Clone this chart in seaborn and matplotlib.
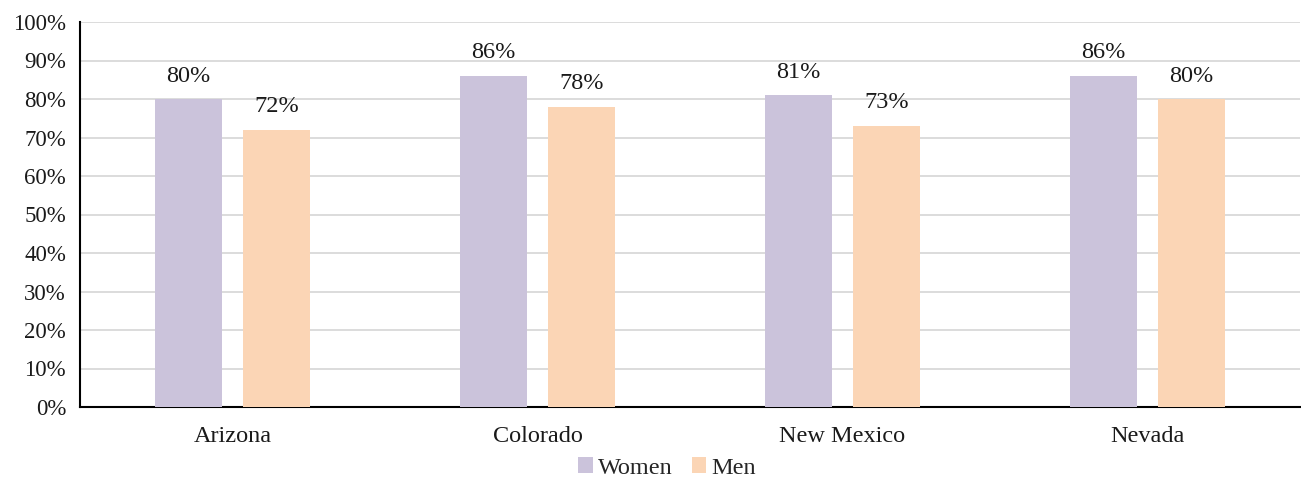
import matplotlib
matplotlib.use("Agg")
import matplotlib.pyplot as plt
import seaborn as sns
import pandas as pd
from matplotlib.patches import Patch

states = ["Arizona", "Colorado", "New Mexico", "Nevada"]
women = [80, 86, 81, 86]
men = [72, 78, 73, 80]
series = ["Women", "Men"]
colors = ["#CBC3DB", "#FBD5B5"]
yticks = [0, 10, 20, 30, 40, 50, 60, 70, 80, 90, 100]

df = pd.DataFrame({
    "State": states * 2,
    "Value": women + men,
    "Sex": ["Women"] * len(states) + ["Men"] * len(states),
})

sns.set_theme(style="white")
plt.rcParams["font.family"] = ["Liberation Serif", "DejaVu Serif"]

fig = plt.figure(figsize=(13.01, 4.79), dpi=100)
ax = fig.add_axes([80 / 1301, 1 - 407 / 479, (1300 - 80) / 1301, (407 - 22) / 479])

sns.barplot(data=df, x="State", y="Value", hue="Sex", hue_order=series,
            palette=colors, width=0.575, gap=0.23, saturation=1,
            linewidth=0, edgecolor="none",
            ax=ax, legend=False, zorder=3)

for cont in ax.containers:
    ax.bar_label(cont, labels=[f"{v:.0f}%" for v in cont.datavalues],
                 padding=9, fontsize=17.5, color="#1a1a1a")

ax.set_ylim(0, 100)
ax.set_xlim(-0.5, 3.5)
ax.set_yticks(yticks)
ax.set_yticklabels([f"{t}%" for t in yticks], fontsize=16.5, color="#1a1a1a")
ax.tick_params(axis="x", labelsize=17.5, labelcolor="#1a1a1a", pad=14, length=0)
ax.tick_params(axis="y", length=0, pad=10)
ax.set_xlabel("")
ax.set_ylabel("")
ax.yaxis.grid(True, color="#D9D9D9", linewidth=1.3, zorder=0)
ax.set_axisbelow(True)
for s in ["top", "right"]:
    ax.spines[s].set_visible(False)
for s in ["left", "bottom"]:
    ax.spines[s].set_color("black")
    ax.spines[s].set_linewidth(1.5)

handles = [Patch(facecolor=c, edgecolor="none", label=l) for c, l in zip(colors, series)]
fig.legend(handles=handles, loc="center", bbox_to_anchor=(667 / 1301, 1 - 468 / 479),
           ncol=2, frameon=False, fontsize=17.5, handlelength=0.6, handleheight=0.6,
           handletextpad=0.2, columnspacing=0.8)

fig.savefig("out.png", dpi=100)
